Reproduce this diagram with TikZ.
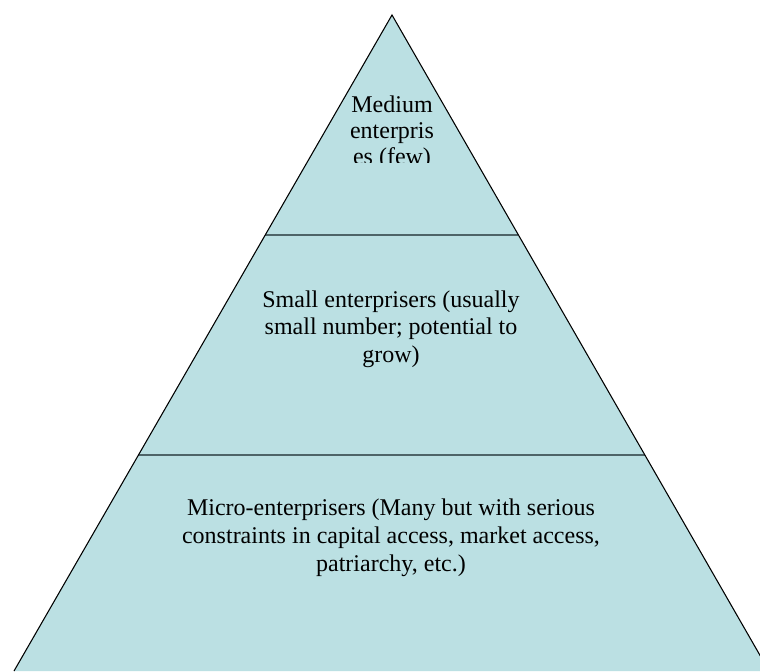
\documentclass[tikz,border=0pt]{standalone}
\usepackage{fontspec}
\setmainfont{Liberation Serif}
\usetikzlibrary{calc}
\definecolor{pyrfill}{RGB}{187,224,227}
\definecolor{divline}{RGB}{78,100,104}
\begin{document}
\begin{tikzpicture}[x=0.75pt,y=-0.75pt,
  lbl/.style={inner sep=0pt,anchor=base,font=\fontsize{18}{21}\selectfont},
  divider/.style={draw=divline,line width=2.1pt},
  outline/.style={draw=black,line width=0.8pt,line join=miter}]
\clip (0,0) rectangle (760,671);
\useasboundingbox (0,0) rectangle (760,671);
\coordinate (A) at (392,15);
\coordinate (L) at (14,671);
\coordinate (R) at (769,671);
\coordinate (d1l) at ($(A)!0.3354!(L)$);
\coordinate (d1r) at ($(A)!0.3354!(R)$);
\coordinate (d2l) at ($(A)!0.6707!(L)$);
\coordinate (d2r) at ($(A)!0.6707!(R)$);
\fill[pyrfill] (A) -- (L) -- (R) -- cycle;
\draw[divider] (d1l) -- (d1r);
\draw[divider] (d2l) -- (d2r);
\draw[outline] (L) -- (A) -- (R);
% medium (clipped text box)
\begin{scope}
\clip (330,80) rectangle (455,162);
\node[lbl] (m1) at (392,112) {Medium};
\node[lbl] (m2) at (392,138) {enterpris};
\node[lbl] (m3) at (392,164.5) {es (few)};
\end{scope}
% small
\node[lbl] (s1) at (391,307) {Small enterprisers (usually};
\node[lbl] (s2) at (391,334.5) {small number; potential to};
\node[lbl] (s3) at (391,362) {grow)};
% micro
\node[lbl] (c1) at (391,515) {Micro-enterprisers (Many but with serious};
\node[lbl] (c2) at (391,543.3) {constraints in capital access, market access,};
\node[lbl] (c3) at (391,571.6) {patriarchy, etc.)};
\end{tikzpicture}
\end{document}
